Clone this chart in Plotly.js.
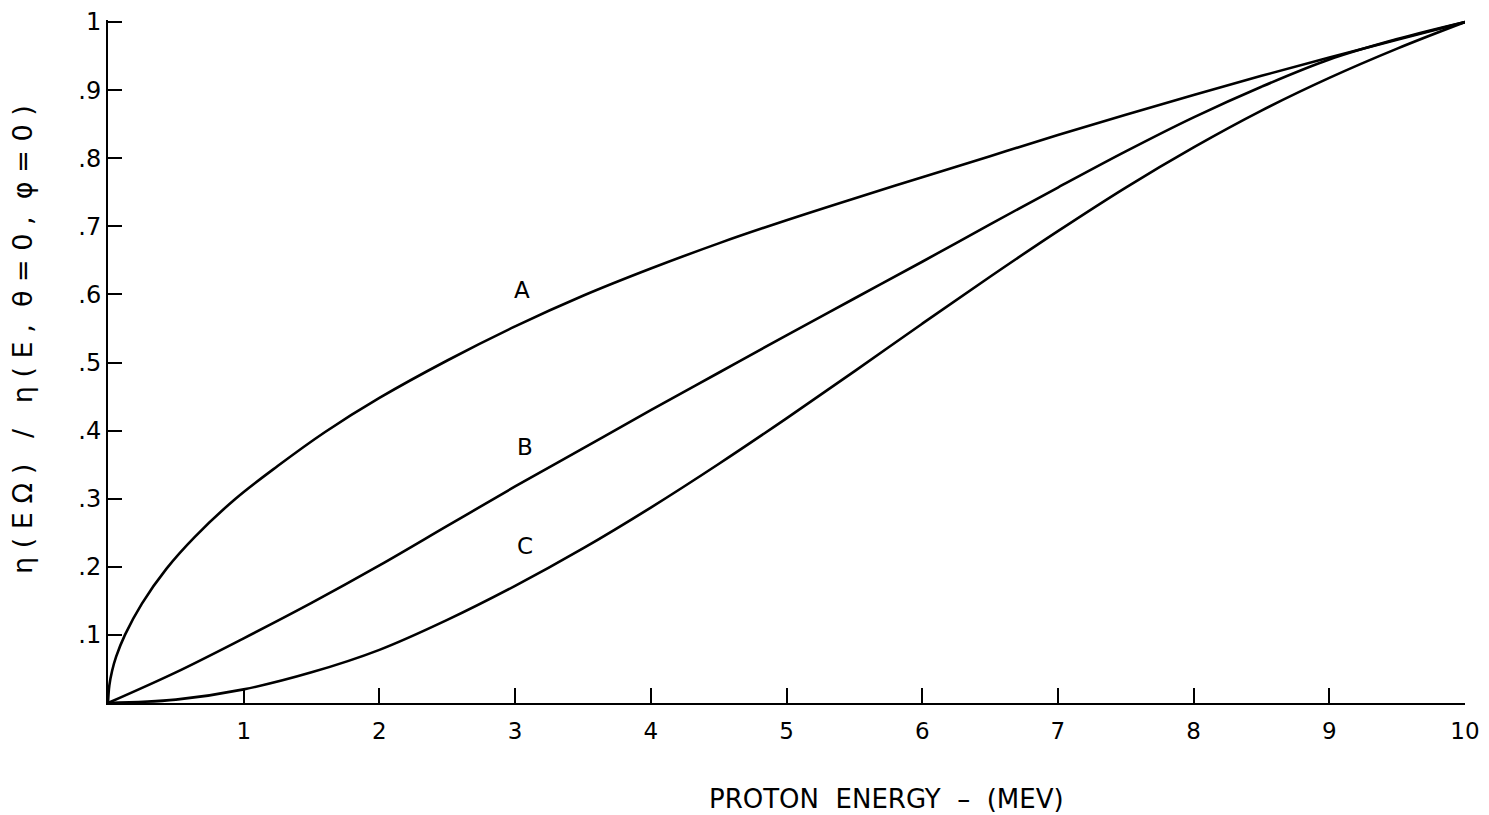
<!DOCTYPE html>
<html>
<head>
<meta charset="utf-8">
<script src="https://cdn.plot.ly/plotly-3.0.1.min.js"></script>
<style>html,body{margin:0;padding:0;background:#fff}#chart{width:1489px;height:815px}</style>
</head>
<body>
<div id="chart"></div>
<script>
// Proton energy (MeV)
const energyA = [0, 0.01, 0.03, 0.06, 0.125, 0.25, 0.43, 0.64, 0.94, 1.25, 1.6, 2, 2.5, 3, 3.5, 4, 4.5, 5, 5.5, 6, 6.5, 7, 7.5, 8, 8.5, 9, 9.5, 10];
const curveA  = [0, 0.026, 0.047, 0.068, 0.10, 0.146, 0.197, 0.244, 0.30, 0.348, 0.398, 0.448, 0.503, 0.553, 0.598, 0.638, 0.675, 0.709, 0.741, 0.772, 0.803, 0.834, 0.864, 0.893, 0.921, 0.948, 0.974, 1.0];

const energyBC = [0, 0.5, 1, 1.5, 2, 2.5, 3, 3.5, 4, 4.5, 5, 5.5, 6, 6.5, 7, 7.5, 8, 8.5, 9, 9.5, 10];
const curveB   = [0, 0.045, 0.095, 0.147, 0.202, 0.26, 0.318, 0.374, 0.43, 0.485, 0.54, 0.594, 0.648, 0.703, 0.757, 0.81, 0.86, 0.905, 0.945, 0.975, 1.0];
const curveC   = [0, 0.005, 0.02, 0.045, 0.078, 0.122, 0.172, 0.227, 0.287, 0.351, 0.418, 0.487, 0.557, 0.626, 0.693, 0.757, 0.816, 0.870, 0.918, 0.961, 1.0];

const curveLabels = ['A', 'B', 'C'];
const labelX = [3.05, 3.07, 3.07];
const labelY = [0.607, 0.376, 0.23];

const xTickVals = [1, 2, 3, 4, 5, 6, 7, 8, 9, 10];
const xTickText = ['1', '2', '3', '4', '5', '6', '7', '8', '9', '10'];
const yTickVals = [0.1, 0.2, 0.3, 0.4, 0.5, 0.6, 0.7, 0.8, 0.9, 1.0];
const yTickText = ['.1', '.2', '.3', '.4', '.5', '.6', '.7', '.8', '.9', '1'];

const xTitle = 'PROTON  ENERGY  \u2013  (MEV)';
const yTitle = '\u03b7 ( E \u03a9 )   /   \u03b7 ( E ,  \u03b8 = 0 ,  \u03c6 = 0 )';

const lineStyle = {color: '#000', width: 2.6, shape: 'spline', smoothing: 1};
const traces = [
  {x: energyA, y: curveA, mode: 'lines', line: lineStyle, name: 'A', hoverinfo: 'skip'},
  {x: energyBC, y: curveB, mode: 'lines', line: lineStyle, name: 'B', hoverinfo: 'skip'},
  {x: energyBC, y: curveC, mode: 'lines', line: lineStyle, name: 'C', hoverinfo: 'skip'}
];

const font = {family: 'DejaVu Sans, sans-serif', color: '#000'};
const annotations = curveLabels.map((t, i) => ({
  x: labelX[i], y: labelY[i], xref: 'x', yref: 'y', text: t, showarrow: false,
  font: Object.assign({}, font, {size: 23})
}));
annotations.push({
  xref: 'paper', yref: 'paper', x: (886 - 108) / (1465 - 108), y: -(799 - 703) / (703 - 20),
  text: xTitle, showarrow: false, xanchor: 'center', yanchor: 'middle',
  font: Object.assign({}, font, {size: 26})
});
annotations.push({
  xref: 'paper', yref: 'paper', x: -(108 - 22) / (1465 - 108), y: (703 - 340) / (703 - 20),
  text: yTitle, showarrow: false, textangle: -90, xanchor: 'center', yanchor: 'middle',
  font: Object.assign({}, font, {size: 27})
});

const layout = {
  width: 1489, height: 815,
  margin: {l: 108, r: 24, t: 20, b: 112},
  paper_bgcolor: '#fff', plot_bgcolor: '#fff',
  showlegend: false,
  xaxis: {
    range: [0, 10], tickvals: xTickVals, ticktext: xTickText,
    ticks: 'inside', ticklen: 15, tickwidth: 2, tickcolor: '#000',
    showline: true, linecolor: '#000', linewidth: 2,
    showgrid: false, zeroline: false,
    tickfont: Object.assign({}, font, {size: 23}), ticklabelstandoff: 6
  },
  yaxis: {
    range: [0, 1.003], tickvals: yTickVals, ticktext: yTickText,
    ticks: 'inside', ticklen: 14, tickwidth: 2, tickcolor: '#000',
    showline: true, linecolor: '#000', linewidth: 2,
    showgrid: false, zeroline: false,
    tickfont: Object.assign({}, font, {size: 24}), ticklabelstandoff: 0
  },
  annotations: annotations
};

Plotly.newPlot('chart', traces, layout, {staticPlot: true, displayModeBar: false});
</script>
</body>
</html>
